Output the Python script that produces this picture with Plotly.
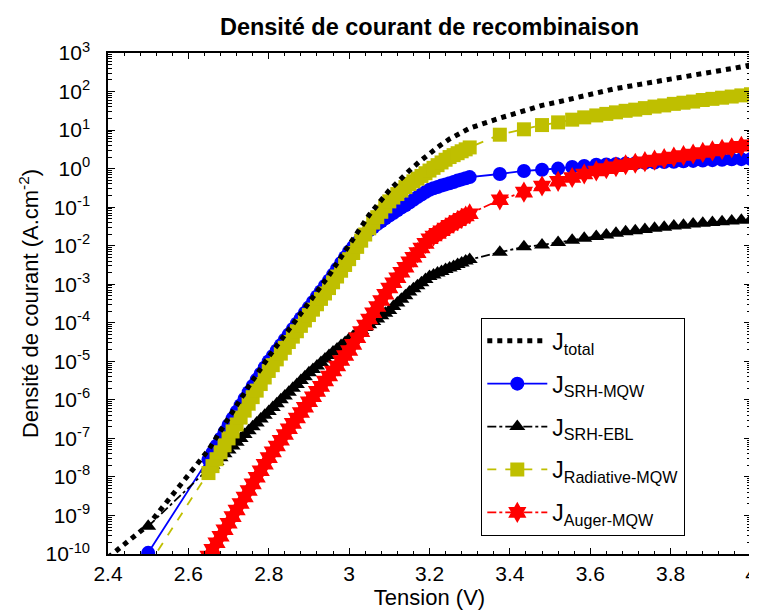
import plotly.graph_objects as go

# ---------------- data ----------------
voltage = [2.50,
           2.65, 2.66, 2.67, 2.68, 2.69, 2.70, 2.71, 2.72, 2.73, 2.74,
           2.75, 2.76, 2.77, 2.78, 2.79, 2.80, 2.81, 2.82, 2.83, 2.84,
           2.85, 2.86, 2.87, 2.88, 2.89, 2.90, 2.91, 2.92, 2.93, 2.94,
           2.95, 2.96, 2.97, 2.98, 2.99, 3.00, 3.01, 3.02, 3.03, 3.04,
           3.05, 3.06, 3.07, 3.08, 3.09, 3.10, 3.11, 3.12, 3.13, 3.14,
           3.15, 3.16, 3.17, 3.18, 3.19, 3.20, 3.21, 3.22, 3.23, 3.24,
           3.25, 3.26, 3.27, 3.28, 3.29, 3.30,
           3.375, 3.435, 3.48, 3.52, 3.555, 3.585, 3.615,
           3.64, 3.664, 3.688, 3.712, 3.736, 3.76, 3.784, 3.808, 3.832,
           3.856, 3.88, 3.904, 3.928, 3.952, 3.976, 4.00]

# log10 of current density (A/cm^2)
log_srh_mqw = [-9.97,
               -7.55, -7.37, -7.19, -7.01, -6.83, -6.65, -6.48, -6.31, -6.14, -5.97,
               -5.80, -5.64, -5.48, -5.32, -5.16, -5.00, -4.86, -4.72, -4.58, -4.44,
               -4.30, -4.16, -4.02, -3.88, -3.74, -3.60, -3.46, -3.32, -3.18, -3.04,
               -2.90, -2.75, -2.60, -2.45, -2.30, -2.15, -2.03, -1.92, -1.81, -1.70,
               -1.60, -1.52, -1.44, -1.37, -1.29, -1.22, -1.15, -1.08, -1.01, -0.95,
               -0.88, -0.81, -0.74, -0.67, -0.61, -0.55, -0.51, -0.48, -0.44, -0.41,
               -0.38, -0.35, -0.31, -0.28, -0.25, -0.22,
               -0.14, -0.06, -0.03, 0.00, 0.04, 0.07, 0.10,
               0.11, 0.12, 0.13, 0.14, 0.15, 0.16, 0.17, 0.18, 0.19,
               0.20, 0.21, 0.22, 0.23, 0.24, 0.245, 0.25]

log_srh_ebl = [-9.28,
               -7.80, -7.70, -7.60, -7.50, -7.40, -7.30, -7.20, -7.10, -7.00, -6.90,
               -6.80, -6.70, -6.60, -6.50, -6.40, -6.30, -6.20, -6.10, -6.00, -5.90,
               -5.80, -5.70, -5.60, -5.50, -5.40, -5.30, -5.21, -5.12, -5.03, -4.94,
               -4.85, -4.76, -4.68, -4.59, -4.51, -4.42, -4.35, -4.27, -4.20, -4.12,
               -4.05, -3.97, -3.90, -3.82, -3.75, -3.68, -3.58, -3.49, -3.39, -3.30,
               -3.20, -3.12, -3.04, -2.96, -2.88, -2.80, -2.76, -2.71, -2.67, -2.62,
               -2.58, -2.54, -2.49, -2.45, -2.40, -2.36,
               -2.17, -2.03, -1.98, -1.92, -1.86, -1.81, -1.76,
               -1.72, -1.68, -1.64, -1.61, -1.58, -1.55, -1.52, -1.49, -1.47,
               -1.44, -1.42, -1.40, -1.38, -1.36, -1.34, -1.32]

log_radiative = [-10.30,
                 -7.90, -7.72, -7.54, -7.36, -7.18, -7.00, -6.82, -6.64, -6.46, -6.28,
                 -6.10, -5.93, -5.76, -5.59, -5.42, -5.25, -5.10, -4.95, -4.80, -4.65,
                 -4.50, -4.36, -4.22, -4.08, -3.94, -3.80, -3.66, -3.52, -3.38, -3.24,
                 -3.10, -2.95, -2.80, -2.65, -2.50, -2.35, -2.19, -2.03, -1.87, -1.71,
                 -1.55, -1.40, -1.26, -1.12, -0.98, -0.85, -0.75, -0.66, -0.57, -0.48,
                 -0.40, -0.33, -0.26, -0.19, -0.12, -0.05, 0.02, 0.09, 0.16, 0.23,
                 0.30, 0.35, 0.40, 0.45, 0.50, 0.55,
                 0.88, 1.02, 1.13, 1.20, 1.27, 1.33, 1.38,
                 1.42, 1.46, 1.50, 1.53, 1.57, 1.61, 1.64, 1.68, 1.71,
                 1.74, 1.78, 1.81, 1.84, 1.87, 1.90, 1.93]

# Auger starts at 2.65 V (no point at 2.50 V)
log_auger = [-10.05, -9.88, -9.71, -9.54, -9.37, -9.20, -9.03, -8.86, -8.69, -8.52,
             -8.35, -8.18, -8.01, -7.84, -7.67, -7.50, -7.35, -7.20, -7.05, -6.90,
             -6.75, -6.61, -6.47, -6.33, -6.19, -6.05, -5.92, -5.78, -5.65, -5.51,
             -5.38, -5.25, -5.12, -4.98, -4.85, -4.72, -4.56, -4.39, -4.23, -4.06,
             -3.90, -3.74, -3.58, -3.42, -3.26, -3.10, -2.96, -2.83, -2.69, -2.56,
             -2.42, -2.30, -2.18, -2.06, -1.94, -1.82, -1.75, -1.68, -1.61, -1.54,
             -1.47, -1.41, -1.35, -1.29, -1.23, -1.17,
             -0.81, -0.61, -0.45, -0.33, -0.23, -0.14, -0.06,
             0.00, 0.05, 0.10, 0.14, 0.18, 0.22, 0.26, 0.30, 0.34,
             0.38, 0.42, 0.46, 0.50, 0.54, 0.58, 0.62]

voltage_total = [2.40, 2.50, 2.65, 2.70, 2.75, 2.80, 2.85, 2.90, 2.95, 3.00,
                 3.05, 3.10, 3.125, 3.15, 3.175, 3.20, 3.225, 3.25, 3.275, 3.30,
                 3.375, 3.435, 3.48, 3.52, 3.555, 3.585, 3.615,
                 3.66, 3.72, 3.78, 3.84, 3.90, 3.96, 4.00]
log_total = [-10.09, -9.25, -7.30, -6.45, -5.65, -4.88, -4.17, -3.47, -2.77, -1.98,
             -1.20, -0.56, -0.29, -0.05, 0.18, 0.40, 0.59, 0.77, 0.92, 1.05,
             1.31, 1.51, 1.64, 1.73, 1.82, 1.89, 1.96,
             2.07, 2.18, 2.28, 2.40, 2.50, 2.61, 2.69]

x_tick_values = [2.4, 2.6, 2.8, 3.0, 3.2, 3.4, 3.6, 3.8, 4.0]
x_tick_labels = ["2.4", "2.6", "2.8", "3", "3.2", "3.4", "3.6", "3.8", "4"]
y_exponents = list(range(-10, 4))

legend_names = ["J<sub>total</sub>", "J<sub>SRH-MQW</sub>", "J<sub>SRH-EBL</sub>",
                "J<sub>Radiative-MQW</sub>", "J<sub>Auger-MQW</sub>"]


def to_j(logs):
    return [10 ** v for v in logs]


FONT = "Liberation Sans, Arial, sans-serif"
OLIVE = "#BFBF00"

# the page body has a default margin: the figure is drawn offset from the corner
OFF_X, OFF_Y = 8, 6
FIG_W, FIG_H = 757 - OFF_X, 614 - OFF_Y
PLOT_L, PLOT_R, PLOT_T, PLOT_B = 108, 751, 51, 552   # target pixels in the window

fig = go.Figure()

fig.add_trace(go.Scatter(
    x=voltage, y=to_j(log_srh_mqw), name=legend_names[1], mode="lines+markers",
    line=dict(color="#0000FF", width=1.8),
    marker=dict(symbol="circle", size=14, color="#0000FF", line=dict(width=0)),
    legendrank=2, legendgroup="b"))

fig.add_trace(go.Scatter(
    x=voltage, y=to_j(log_srh_ebl), name=legend_names[2], mode="lines+markers",
    line=dict(color="black", width=1.8, dash="dashdot"),
    marker=dict(symbol="triangle-up", size=14, color="black", line=dict(width=0)),
    legendrank=3, legendgroup="c"))

fig.add_trace(go.Scatter(
    x=voltage, y=to_j(log_radiative), name=legend_names[3], mode="lines+markers",
    line=dict(color=OLIVE, width=1.8, dash="dash"),
    marker=dict(symbol="square", size=14, color=OLIVE, line=dict(width=0)),
    legendrank=4, legendgroup="d"))

fig.add_trace(go.Scatter(
    x=voltage[1:], y=to_j(log_auger), name=legend_names[4], mode="lines+markers",
    line=dict(color="#FF0000", width=1.8, dash="dashdot"),
    marker=dict(symbol="hexagram", size=16, color="#FF0000", line=dict(width=0)),
    legendrank=5, legendgroup="e"))

fig.add_trace(go.Scatter(
    x=voltage_total, y=to_j(log_total), name=legend_names[0], mode="lines",
    line=dict(color="black", width=5, dash="5px,5px"),
    legendrank=1, legendgroup="a"))

x_minor = [round(2.4 + 0.04 * i, 2) for i in range(41) if i % 5]
y_minor = [k * 10.0 ** d for d in range(-10, 3) for k in range(2, 10)]

fig.update_layout(
    width=FIG_W, height=FIG_H,
    margin=dict(l=PLOT_L - OFF_X, r=757 - PLOT_R, t=PLOT_T - OFF_Y, b=614 - PLOT_B,
                autoexpand=False),
    paper_bgcolor="white", plot_bgcolor="white",
    font=dict(family=FONT, color="black", size=20),
    title=dict(text="<b>Densité de courant de recombinaison</b>",
               x=0.5, xref="paper", xanchor="center",
               y=1 - (25 - OFF_Y) / FIG_H, yref="container", yanchor="middle",
               font=dict(size=23.5, family=FONT, color="black")),
    showlegend=True,
    legend=dict(x=(481 - PLOT_L) / (PLOT_R - PLOT_L), y=(PLOT_B - 316) / (PLOT_B - PLOT_T),
                xanchor="left", yanchor="top",
                bgcolor="white", bordercolor="black", borderwidth=1.3,
                font=dict(size=23, family=FONT, color="black"),
                tracegroupgap=10, itemwidth=60),
    xaxis=dict(range=[2.4, 4.0], tickmode="array", tickvals=x_tick_values,
               ticktext=x_tick_labels, ticks="inside", ticklen=6, tickwidth=1,
               tickcolor="black", showline=True, linecolor="black", linewidth=1.5,
               mirror="ticks", showgrid=False, zeroline=False, automargin=False,
               ticklabeloverflow="allow",
               tickfont=dict(size=21, family=FONT),
               title=dict(text="Tension (V)", font=dict(size=22, family=FONT), standoff=3),
               minor=dict(tickmode="array", tickvals=x_minor, ticks="inside", ticklen=3,
                          tickcolor="black", showgrid=False)),
    yaxis=dict(type="log", range=[-10, 3], tickmode="array",
               tickvals=[10.0 ** e for e in y_exponents],
               ticktext=["10<sup>%d</sup>" % e for e in y_exponents],
               ticks="inside", ticklen=7, tickwidth=1, tickcolor="black",
               showline=True, linecolor="black", linewidth=1.5, mirror="ticks",
               showgrid=False, zeroline=False, ticklabelstandoff=12, automargin=False,
               ticklabeloverflow="allow",
               tickfont=dict(size=21, family=FONT),
               title=dict(text="Densité de courant (A.cm<sup>-2</sup>)",
                          font=dict(size=22, family=FONT), standoff=1),
               minor=dict(tickmode="array", tickvals=y_minor, ticks="inside", ticklen=4,
                          tickcolor="black", showgrid=False)),
)

fig.write_html("out.html")
